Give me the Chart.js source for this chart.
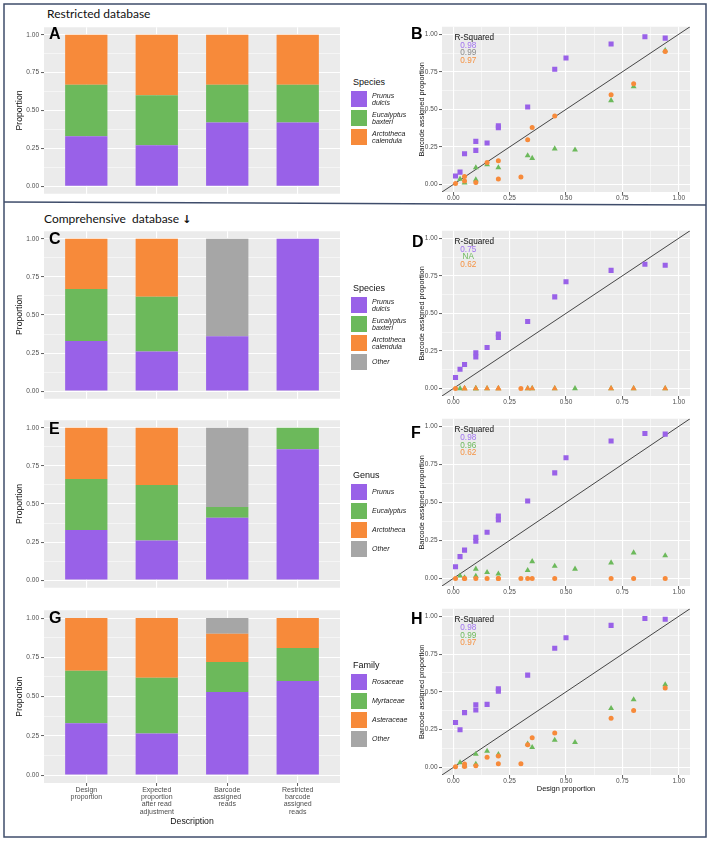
<!DOCTYPE html>
<html><head><meta charset="utf-8">
<script src="https://cdn.jsdelivr.net/npm/chart.js@4.4.1/dist/chart.umd.min.js"></script>
<style>
html,body{margin:0;padding:0;background:#fff;}
body{position:relative;width:709px;height:841px;overflow:hidden;font-family:"Liberation Sans",Arial,sans-serif;}
.t{position:absolute;white-space:nowrap;}
.sec{font-family:Lato,"Open Sans",sans-serif;font-size:12px;line-height:14px;color:#111;}
.arr{font-family:"DejaVu Sans",sans-serif;font-weight:bold;color:#111;font-size:11px;}
.let{font-weight:bold;font-size:16px;line-height:16px;color:#000;}
.rsq{font-size:8.2px;line-height:8px;}
.lgt{font-size:9px;line-height:11px;color:#111;}
.lgl{font-size:7px;line-height:7.4px;font-style:italic;color:#1a1a1a;}
.key{position:absolute;width:16px;height:16px;}
canvas{position:absolute;}
</style></head><body>
<svg class="t" style="left:0;top:0" width="709" height="841">
<rect x="4" y="4" width="702" height="833" fill="none" stroke="#3f4d6b" stroke-width="1.5"/>
<line x1="4" y1="202" x2="706" y2="205" stroke="#3f4d6b" stroke-width="1.5"/>
</svg>
<div class="t sec" style="left:47px;top:7px">Restricted database</div>
<div class="t sec" style="left:44px;top:211.5px">Comprehensive&nbsp; database <span class="arr">&#x2193;&#xFE0E;</span></div>
<script>
// ================= DATA =================
const barCategories = [["Design","proportion"],["Expected","proportion","after read","adjustment"],["Barcode","assigned","reads"],["Restricted","barcode","assigned","reads"]];
const proportionTicks = [0, 0.25, 0.5, 0.75, 1];

// Panel A – restricted database, species
const aPrunus     = [0.33, 0.27, 0.42, 0.42];
const aEucalyptus = [0.34, 0.33, 0.25, 0.25];
const aArctotheca = [0.33, 0.40, 0.33, 0.33];
// Panel C – comprehensive database, species
const cPrunus     = [0.33, 0.26, 0.36, 1.00];
const cEucalyptus = [0.34, 0.36, 0, 0];
const cArctotheca = [0.33, 0.38, 0, 0];
const cOther      = [0, 0, 0.64, 0];
// Panel E – genus
const ePrunus     = [0.33, 0.26, 0.41, 0.86];
const eEucalyptus = [0.335, 0.365, 0.07, 0.14];
const eArctotheca = [0.335, 0.375, 0, 0];
const eOther      = [0, 0, 0.52, 0];
// Panel G – family
const gRosaceae   = [0.33, 0.265, 0.53, 0.60];
const gMyrtaceae  = [0.335, 0.355, 0.19, 0.21];
const gAsteraceae = [0.335, 0.38, 0.18, 0.19];
const gOther      = [0, 0, 0.10, 0];

// design proportions (x) per taxon
const designPrunus = [0.01,0.03,0.05,0.10,0.10,0.15,0.20,0.20,0.33,0.45,0.50,0.70,0.85,0.94];
const designEuc    = [0.03,0.05,0.10,0.10,0.15,0.20,0.33,0.35,0.45,0.54,0.70,0.80,0.94];
const designArc    = [0.01,0.05,0.05,0.10,0.15,0.20,0.20,0.30,0.33,0.35,0.45,0.70,0.80,0.94];
// Panel B
const bPrunusY = [0.056,0.082,0.205,0.227,0.287,0.276,0.378,0.390,0.516,0.767,0.842,0.935,0.983,0.974];
const bEucY    = [0.037,0.011,0.112,0.032,0.132,0.112,0.192,0.175,0.238,0.231,0.559,0.652,0.892];
const bArcY    = [0.006,0.054,0.024,0.013,0.147,0.158,0.037,0.050,0.298,0.380,0.456,0.598,0.670,0.886];
// Panel D
const dPrunusY = [0.073,0.128,0.160,0.238,0.210,0.273,0.363,0.340,0.446,0.610,0.710,0.786,0.827,0.820];
const dEucY    = [0,0,0,0,0,0,0,0,0,0,0,0,0];
const dArcY    = [0,0,0,0,0,0,0,0,0,0,0,0,0,0];
// Panel F
const fPrunusY = [0.077,0.143,0.186,0.270,0.244,0.303,0.410,0.385,0.509,0.694,0.793,0.904,0.953,0.949];
const fEucY    = [0.017,0.005,0.062,0.015,0.040,0.030,0.053,0.111,0.081,0.062,0.103,0.169,0.150];
const fArcY    = [0,0,0,0,0,0,0,0,0,0,0,0,0,0];
// Panel H
const hPrunusY = [0.297,0.249,0.363,0.415,0.380,0.417,0.520,0.505,0.611,0.789,0.858,0.940,0.985,0.981];
const hEucY    = [0.032,0.011,0.088,0.022,0.108,0.086,0.155,0.133,0.181,0.166,0.391,0.449,0.548];
const hArcY    = [0.004,0.022,0.006,0.011,0.067,0.075,0.024,0.024,0.150,0.196,0.228,0.325,0.376,0.525];

const rsqB = ["0.98","0.99","0.97"];
const rsqD = ["0.75"," NA","0.62"];
const rsqF = ["0.98","0.96","0.62"];
const rsqH = ["0.98","0.99","0.97"];

const speciesLegend  = [["Prunus","dulcis"],["Eucalyptus","baxteri"],["Arctotheca","calendula"]];
const speciesLegendC = [["Prunus","dulcis"],["Eucalyptus","baxteri"],["Arctotheca","calendula"],["Other"]];
const genusLegend    = [["Prunus"],["Eucalyptus"],["Arctotheca"],["Other"]];
const familyLegend   = [["Rosaceae"],["Myrtaceae"],["Asteraceae"],["Other"]];

// ================= STYLE =================
const PURPLE='#9961e8', GREEN='#6cb95b', ORANGE='#f78a3a', GRAY='#a6a6a6', PANEL='#ebebeb';
const RSQ_PURPLE='#a273f0', RSQ_GRAY='#8a8a8a', RSQ_GREEN='#6cb95b', RSQ_ORANGE='#f59140';
const FONT='"Liberation Sans", Arial, sans-serif';
Chart.defaults.font.family = FONT;

const gridVals = [];
proportionTicks.forEach((v,i)=>{ gridVals.push(v); if(i<proportionTicks.length-1) gridVals.push((v+proportionTicks[i+1])/2); });
const isMajor = v => proportionTicks.some(t => Math.abs(t-v) < 1e-9);
const gridW = c => (c.tick && isMajor(c.tick.value)) ? 1.1 : 0.5;
const tickC = c => (c.tick && isMajor(c.tick.value)) ? '#333333' : 'rgba(0,0,0,0)';

const bgPlugin = {id:'panelBg', beforeDraw(chart){const a=chart.chartArea,c=chart.ctx;c.save();c.fillStyle=PANEL;c.fillRect(a.left,a.top,a.right-a.left,a.bottom-a.top);c.restore();}};

function makeCanvas(l,t,w,h){
  const cv=document.createElement('canvas');
  cv.width=w; cv.height=h;
  cv.style.cssText=`left:${l}px;top:${t}px;width:${w}px;height:${h}px`;
  document.body.appendChild(cv); return cv;
}
function text(cls,l,t,s,color,extra){
  const d=document.createElement('div'); d.className='t '+cls;
  d.style.left=l+'px'; d.style.top=t+'px'; if(color) d.style.color=color; if(extra) d.style.cssText+=extra;
  d.textContent=s; document.body.appendChild(d); return d;
}
function propAxis(width, title, titleSize, titlePad){
  return {
    type:'linear', min:-0.05, max:1.05,
    afterBuildTicks: s => { s.ticks = gridVals.map(v=>({value:v})); },
    afterFit: s => { s.width = width; },
    ticks:{autoSkip:false, padding:2, color:'#4d4d4d', font:{size:6.5, lineHeight:1}, callback:v => isMajor(v) ? v.toFixed(2) : ''},
    grid:{color:'#ffffff', lineWidth:gridW, tickColor:tickC, tickLength:3, tickWidth:0.8},
    border:{display:false},
    title:{display:true, text:title, color:'#111', font:{size:titleSize, lineHeight:1.2}, padding:{top:titlePad, bottom:0}}
  };
}
function commonOpts(scales){
  return {responsive:false, animation:false, devicePixelRatio:1, events:[], layout:{padding:0},
          plugins:{legend:{display:false}, tooltip:{enabled:false}}, scales};
}

function barChart(box, series, showX){
  const cv = makeCanvas(box[0],box[1],box[2],box[3]);
  const y = propAxis(44, 'Proportion', 8.7, 14.8); y.stacked = true;
  const x = {
    type:'linear', min:0.4, max:4.6, stacked:true, offset:false,
    afterBuildTicks: s => { s.ticks = barCategories.map((_,i)=>({value:i+1})); },
    afterFit: s => { s.height = showX ? 47 : 0; },
    ticks:{display:showX, autoSkip:false, maxRotation:0, minRotation:0, padding:0, color:'#4d4d4d',
           font:{size:7, lineHeight:1.06}, callback:(v,i)=>barCategories[i]},
    grid:{color:'#ffffff', lineWidth:1.1, offset:false, drawTicks:showX, tickColor:'#333333', tickLength:3, tickWidth:0.8},
    border:{display:false},
    title:{display:showX, text:'Description', color:'#111', font:{size:8.7, lineHeight:1.2}, padding:{top:0,bottom:3}}
  };
  new Chart(cv, {
    type:'bar',
    data:{datasets: series.map(s => ({
      label:s[0], backgroundColor:s[2], borderWidth:0, barPercentage:0.6, categoryPercentage:1,
      data:s[1].map((v,i)=>({x:i+1, y: v===0 ? null : v}))
    }))},
    options: commonOpts({x, y}),
    plugins:[bgPlugin]
  });
}

const pts = (xs, ys) => xs.map((x,i)=>({x, y:ys[i]}));
const AX_MIN=-0.05, AX_MAX=1.05;
function scatterChart(box, prunY, eucY, arcY, showTitle, arcStyle){
  const cv = makeCanvas(box[0],box[1],box[2],box[3]);
  const y = propAxis(37, 'Barcode assigned proportion', 7.4, 12.3);
  y.ticks.padding = 1.5;
  const x = propAxis(0, 'Design proportion', 7.4, 0);
  x.afterFit = s => { s.height = showTitle ? 19 : 13; };
  x.ticks.padding = 0;
  x.title = {display:showTitle, text:'Design proportion', color:'#111', font:{size:7.4, lineHeight:1.2}, padding:{top:0,bottom:0.6}};
  new Chart(cv, {
    type:'scatter',
    data:{datasets:[
      {label:'Arctotheca', data:pts(designArc, arcY), backgroundColor:ORANGE, borderWidth:0, order:1,
       pointStyle: arcStyle || 'circle', pointRadius: c => (typeof arcStyle==='function' && arcStyle(c)==='triangle') ? 3.4 : 2.5},
      {label:'Eucalyptus', data:pts(designEuc, eucY), backgroundColor:GREEN, borderWidth:0, order:2, pointStyle:'triangle', pointRadius:3.4},
      {label:'Prunus', data:pts(designPrunus, prunY), backgroundColor:PURPLE, borderWidth:0, order:3, pointStyle:'rect', pointRadius:3.6},
      {type:'line', label:'1:1', data:[{x:AX_MIN,y:AX_MIN},{x:AX_MAX,y:AX_MAX}], borderColor:'#1a1a1a', borderWidth:0.8, pointRadius:0, order:10}
    ]},
    options: commonOpts({x, y}),
    plugins:[bgPlugin]
  });
}

function legend(title, items, colors, keyTop){
  text('lgt', 353, keyTop-14.5, title);
  items.forEach((lines,i)=>{
    const top = keyTop + i*19;
    const k=document.createElement('div'); k.className='key'; k.style.left='351px'; k.style.top=top+'px'; k.style.background=colors[i];
    document.body.appendChild(k);
    const d=text('lgl', 372, top+8-lines.length*3.7, '');
    d.innerHTML = lines.join('<br>');
  });
}
function rsq(top, vals, colors){
  text('rsq', 454.5, top, 'R-Squared', '#111');
  vals.forEach((v,i)=> text('rsq', 460.3, top+7.8*(i+1), v, colors[i], 'white-space:pre'));
}

// ================= BUILD =================
barChart([0,22,340,177], [["Prunus",aPrunus,PURPLE],["Eucalyptus",aEucalyptus,GREEN],["Arctotheca",aArctotheca,ORANGE]], false);
barChart([0,226,340,178], [["Prunus",cPrunus,PURPLE],["Eucalyptus",cEucalyptus,GREEN],["Arctotheca",cArctotheca,ORANGE],["Other",cOther,GRAY]], false);
barChart([0,415,340,178], [["Prunus",ePrunus,PURPLE],["Eucalyptus",eEucalyptus,GREEN],["Arctotheca",eArctotheca,ORANGE],["Other",eOther,GRAY]], false);
barChart([0,605,340,225], [["Rosaceae",gRosaceae,PURPLE],["Myrtaceae",gMyrtaceae,GREEN],["Asteraceae",gAsteraceae,ORANGE],["Other",gOther,GRAY]], true);

scatterChart([405,22,289,183], bPrunusY, bEucY, bArcY, false);
scatterChart([405,226,289,183], dPrunusY, dEucY, dArcY, false, c => designEuc.includes(designArc[c.dataIndex]) ? 'triangle' : 'circle');
scatterChart([405,414,289,185], fPrunusY, fEucY, fArcY, false);
scatterChart([405,604,289,190], hPrunusY, hEucY, hArcY, true);

legend('Species', speciesLegend, [PURPLE,GREEN,ORANGE], 91);
legend('Species', speciesLegendC, [PURPLE,GREEN,ORANGE,GRAY], 297);
legend('Genus', genusLegend, [PURPLE,GREEN,ORANGE,GRAY], 484);
legend('Family', familyLegend, [PURPLE,GREEN,ORANGE,GRAY], 674);

rsq(33.7, rsqB, [RSQ_PURPLE,RSQ_GRAY,RSQ_ORANGE]);
rsq(237.7, rsqD, [RSQ_PURPLE,RSQ_GREEN,RSQ_ORANGE]);
rsq(426, rsqF, [RSQ_PURPLE,RSQ_GREEN,RSQ_ORANGE]);
rsq(616, rsqH, [RSQ_PURPLE,RSQ_GREEN,RSQ_ORANGE]);

[['A',49,26],['B',411,26],['C',49,231],['D',412,234],['E',49,421],['F',411,425],['G',49,610],['H',411,611]]
  .forEach(p => text('let', p[1], p[2], p[0]));
</script>
</body></html>
